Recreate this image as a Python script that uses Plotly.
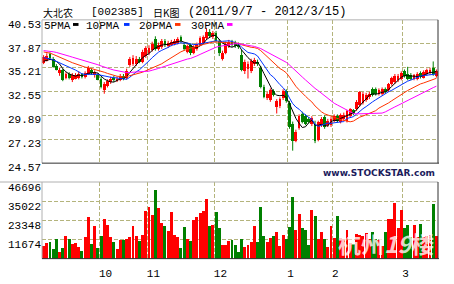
import plotly.graph_objects as go
import pandas as pd

# ---------------- data ----------------
# closes of the 29 sessions before 2011/9/7 (only used for the moving averages)
pre_close = [37.0, 37.3, 37.6, 37.2, 37.5, 37.8, 37.4, 37.3, 37.6, 37.3,
             37.5, 37.9, 38.1, 37.8, 37.6, 37.9, 37.4, 37.2, 37.5, 37.1,
             37.0, 36.9, 36.6, 36.5, 36.5, 36.1, 35.7, 35.6, 35.8]

open_ = [35.7, 36.0, 36.7, 36.2, 35.4, 34.6, 35.0, 34.1, 34.5, 33.8,
         34.0, 34.1, 34.5, 34.2, 34.5, 35.0, 34.4, 34.4, 34.0, 32.7,
         33.2, 33.6, 34.1, 33.8, 33.9, 34.3, 34.1, 35.5, 35.6, 35.6,
         36.2, 35.9, 36.5, 36.8, 37.2, 38.4, 37.3, 37.5, 38.2, 37.6,
         37.8, 37.9, 38.0, 38.6, 37.8, 37.0, 37.7, 36.9, 37.3, 37.8,
         38.0, 38.5, 39.2, 38.6, 39.1, 38.2, 36.2, 36.9, 37.6, 38.1,
         38.0, 37.8, 36.6, 34.8, 35.1, 34.8, 35.6, 35.9, 35.2, 33.1,
         31.8, 31.6, 32.6, 30.8, 30.95, 31.8, 32.6, 31.3, 29.0, 27.0,
         28.45, 30.04, 29.8, 29.5, 28.9, 29.0, 27.2, 28.8, 29.7, 28.8,
         28.8, 29.3, 29.86, 29.2, 29.5, 29.3, 29.86, 30.5, 30.57, 31.1,
         31.3, 31.6, 31.9, 32.87, 32.8, 32.3, 32.3, 32.9, 32.7, 33.4,
         33.6, 33.8, 34.0, 34.83, 34.5, 34.4, 34.0, 33.95, 34.6, 34.1,
         34.5, 34.6, 35.2, 34.3]

close = [36.4, 36.5, 36.3, 35.3, 35.0, 35.0, 33.9, 34.5, 34.1, 34.4,
         34.4, 34.5, 34.2, 34.6, 35.2, 34.6, 34.7, 33.9, 33.1, 33.4,
         33.7, 34.0, 33.8, 34.0, 34.3, 34.0, 34.9, 36.2, 36.3, 36.2,
         35.9, 37.0, 37.4, 37.4, 37.9, 37.3, 37.8, 38.2, 37.7, 38.0,
         38.1, 38.2, 38.4, 38.2, 37.3, 37.6, 36.8, 37.5, 37.9, 38.5,
         38.6, 39.2, 38.7, 39.1, 38.2, 36.8, 36.9, 37.9, 38.1, 37.7,
         37.6, 37.5, 35.0, 35.9, 35.6, 36.0, 36.06, 35.6, 33.1, 32.0,
         32.3, 32.7, 32.2, 31.5, 31.7, 32.6, 31.5, 28.6, 27.0, 28.1,
         29.86, 29.15, 29.0, 29.2, 29.6, 27.0, 29.15, 29.5, 28.6, 29.3,
         29.5, 29.8, 29.3, 29.9, 30.0, 30.4, 30.57, 30.1, 31.45, 32.5,
         32.3, 32.17, 32.3, 32.17, 32.3, 32.7, 32.87, 32.5, 33.4, 34.1,
         34.3, 34.3, 34.6, 34.3, 33.95, 34.0, 34.4, 34.5, 34.2, 34.7,
         35.0, 35.0, 34.5, 34.8]

high = [36.6, 36.8, 36.9, 36.4, 35.6, 35.2, 35.1, 34.7, 34.7, 34.6,
        34.6, 34.8, 34.6, 34.8, 35.4, 35.1, 34.9, 34.6, 34.2, 33.6,
        33.9, 34.2, 34.3, 34.2, 34.5, 34.5, 35.1, 36.4, 36.6, 36.5,
        36.4, 37.2, 37.6, 37.7, 38.1, 38.7, 38.0, 38.4, 38.4, 38.2,
        38.3, 38.4, 38.6, 38.8, 38.0, 37.8, 37.9, 37.7, 38.0, 38.7,
        38.8, 39.6, 39.5, 39.3, 39.3, 38.4, 37.1, 38.1, 38.3, 38.3,
        38.2, 38.0, 37.2, 36.1, 35.9, 36.2, 36.3, 36.1, 35.4, 33.3,
        32.5, 32.9, 32.8, 31.7, 31.9, 32.8, 32.8, 31.5, 29.2, 28.3,
        30.0, 30.3, 30.0, 29.7, 29.8, 29.3, 29.3, 29.7, 29.9, 29.5,
        29.7, 30.0, 30.0, 30.1, 30.2, 30.5, 30.7, 30.6, 31.6, 32.6,
        32.5, 32.4, 32.5, 33.0, 33.0, 32.9, 33.0, 33.0, 33.5, 34.2,
        34.5, 34.5, 34.8, 35.0, 35.3, 34.6, 34.5, 34.7, 34.8, 34.9,
        35.1, 35.2, 35.9, 35.0]

low = [35.6, 35.9, 36.1, 35.2, 34.9, 34.3, 33.7, 33.9, 33.9, 33.6,
       33.9, 33.9, 34.0, 34.0, 34.4, 34.4, 34.1, 33.8, 32.9, 32.3,
       33.0, 33.4, 33.6, 33.6, 33.7, 33.8, 33.9, 35.3, 35.4, 35.4,
       35.7, 35.7, 36.3, 36.6, 37.0, 37.1, 37.1, 37.3, 37.5, 37.4,
       37.6, 37.7, 37.8, 38.0, 37.1, 36.8, 36.6, 36.7, 37.1, 37.6,
       37.8, 38.3, 38.5, 38.4, 38.0, 36.5, 36.0, 36.7, 37.4, 37.5,
       37.4, 37.3, 34.8, 34.5, 34.0, 34.6, 35.4, 35.4, 32.9, 31.8,
       31.6, 31.4, 32.0, 30.1, 30.7, 31.6, 31.3, 28.4, 25.96, 26.9,
       28.3, 29.0, 28.8, 29.0, 28.7, 26.8, 27.0, 28.6, 28.4, 28.6,
       28.6, 29.1, 29.1, 29.0, 29.3, 29.1, 29.7, 29.9, 30.4, 30.9,
       31.1, 31.4, 31.7, 32.0, 32.1, 32.1, 32.1, 32.3, 32.5, 33.2,
       33.4, 33.6, 33.8, 34.1, 33.8, 33.8, 33.8, 33.8, 34.0, 34.0,
       34.3, 34.4, 34.3, 34.1]

volume = [7590, 9340, 9920, 5840, 11680, 4090, 6420, 14010, 11680, 8760,
          9340, 7010, 4670, 13430, 25100, 8760, 19850, 6420, 14010, 23940,
          20430, 13430, 9920, 5840, 11090, 11090, 12000, 13430, 19850, 14010,
          10510, 14600, 29190, 31530, 26860, 42030, 30940, 21600, 19850, 16930,
          28610, 14600, 13430, 6420, 19270, 12260, 10510, 23350, 25100, 28020,
          29190, 36200, 19850, 20430, 28610, 18680, 8170, 8170, 10510, 11090,
          8000, 4090, 12260, 7010, 8170, 9920, 19850, 9920, 31530, 14010,
          9920, 12840, 14010, 16350, 7590, 14600, 12260, 19270, 37360, 17510,
          27440, 18680, 17510, 8170, 29770, 26270, 11680, 16350, 11680, 7010,
          19850, 12500, 26270, 12840, 12260, 17510, 9340, 8760, 15180, 14600,
          14010, 15760, 12260, 16000, 12260, 11090, 7590, 16350, 23940, 24100,
          34030, 18860, 29360, 18680, 20430, 13430, 20430, 13430, 21010, 13430,
          14010, 14600, 33270, 14010]

# first session of each month (index in the session list) and labels
month_first_bar = [18, 33, 54, 77, 91, 113]
month_labels = ["10", "11", "12", "1", "2", "3"]

price_ticks = [24.57, 27.23, 29.89, 32.55, 35.21, 37.87, 40.53]
vol_ticks = [11674, 23348, 35022, 46696]

ma_periods = [5, 10, 20, 30]
ma_names = ["5PMA", "10PMA", "20PMA", "30PMA"]

title_stock = "大北农"
title_code = "[002385]"
title_kind = "日K图"
title_range = "(2011/9/7 - 2012/3/15)"

# ---------------- styles ----------------
W, H = 454, 284
RED = "#ff0000"
GREEN = "#008000"
MA_COLORS = ["#000000", "#0033ff", "#ff3300", "#ff00ff"]
GRID = "#b4b47c"
LIGHT = "#b0b0b0"
DARK = "#303030"
MONO = "Liberation Mono, DejaVu Sans Mono, monospace"
CJK = "Noto Sans CJK SC"

X0, X1 = 42, 438          # plot area in pixels
P_TOP, P_BOT = 19.7, 169.3  # price panel
V_TOP, V_BOT = 189, 269     # volume panel


def px(x):
    return x / W


def py(y):
    return 1 - y / H


n = len(close)
xs = list(range(n))
up = [c >= o for o, c in zip(open_, close)]
colors = [RED if u else GREEN for u in up]

full = pd.Series(pre_close + close)
mas = [full.rolling(p).mean().tolist()[-n:] for p in ma_periods]

fig = go.Figure()

# wicks
for is_up, col in [(True, RED), (False, GREEN)]:
    wx, wy = [], []
    for i in range(n):
        if up[i] == is_up:
            wx += [i, i, None]
            wy += [low[i], high[i], None]
    fig.add_trace(go.Scatter(x=wx, y=wy, mode="lines", line=dict(color=col, width=1),
                             xaxis="x", yaxis="y", hoverinfo="skip"))

# bodies
base = [min(o, c) for o, c in zip(open_, close)]
hgt = [max(abs(c - o), 0.04) for o, c in zip(open_, close)]
fig.add_trace(go.Bar(x=xs, y=hgt, base=base, width=0.88, marker=dict(color=colors, line=dict(width=0)),
                     xaxis="x", yaxis="y", hoverinfo="skip"))

# moving averages
for ma, col in zip(mas, MA_COLORS):
    fig.add_trace(go.Scatter(x=xs, y=ma, mode="lines", line=dict(color=col, width=1),
                             xaxis="x", yaxis="y", hoverinfo="skip"))

# volume
fig.add_trace(go.Bar(x=xs, y=volume, width=0.92, marker=dict(color=colors, line=dict(width=0)),
                     xaxis="x2", yaxis="y2", hoverinfo="skip"))

grid_kw = dict(showgrid=True, gridcolor=GRID, griddash="4px,2px", gridwidth=1,
               zeroline=False, showline=False, ticks="")
xdom = [px(X0), px(X1)]
gridvals = [m - 0.5 for m in month_first_bar]
xlabels = [lab if len(lab) == 2 else lab + "\u00a0" for lab in month_labels]

fig.update_layout(
    width=W, height=H, margin=dict(l=0, r=0, t=0, b=0),
    paper_bgcolor="white", plot_bgcolor="white", showlegend=False,
    barmode="overlay", bargap=0,
    xaxis=dict(domain=xdom, range=[-0.5, n - 0.5], tickvals=gridvals,
               showticklabels=False, anchor="y", **grid_kw),
    xaxis2=dict(domain=xdom, range=[-0.5, n - 0.5], tickvals=gridvals, ticktext=xlabels,
                matches="x", anchor="y2", tickfont=dict(family=MONO, size=11, color="black"),
                ticklabelshift=6, ticklabelstandoff=6, **grid_kw),
    yaxis=dict(domain=[py(P_BOT), py(P_TOP)], range=[price_ticks[0], price_ticks[-1]],
               tickvals=price_ticks, ticktext=["%.2f" % v for v in price_ticks],
               tickfont=dict(family=MONO, size=11, color="black"), ticklabelshift=4,
               anchor="x", **grid_kw),
    yaxis2=dict(domain=[py(V_BOT), py(V_TOP)], range=[0, vol_ticks[-1]],
                tickvals=vol_ticks, ticktext=[str(v) for v in vol_ticks],
                tickfont=dict(family=MONO, size=11, color="black"), ticklabelshift=5,
                anchor="x2", **grid_kw),
)

shapes = []


def hline(x0, x1, y, col):
    shapes.append(dict(type="line", xref="paper", yref="paper", x0=px(x0), x1=px(x1),
                       y0=py(y), y1=py(y), line=dict(color=col, width=1)))


def vline(x, y0, y1, col):
    shapes.append(dict(type="line", xref="paper", yref="paper", x0=px(x), x1=px(x),
                       y0=py(y0), y1=py(y1), line=dict(color=col, width=1)))


# price panel frame
hline(X0, X1, P_TOP, LIGHT)
vline(X0, P_TOP, P_BOT, LIGHT)
hline(X0, X1 + 1, P_BOT, DARK)
vline(X1, P_TOP, P_BOT, DARK)
# volume panel frame
hline(0, X1, V_TOP, LIGHT)
vline(X0, V_TOP, V_BOT, LIGHT)
hline(X0, X1 + 1, V_BOT, DARK)
vline(X1, V_TOP, V_BOT, DARK)

# legend swatches
sw_x = [73, 124, 175, 227]
for x0, col in zip(sw_x, MA_COLORS):
    shapes.append(dict(type="rect", xref="paper", yref="paper", x0=px(x0), x1=px(x0 + 5.5),
                       y0=py(26), y1=py(23), line=dict(width=0), fillcolor=col))

fig.update_layout(shapes=shapes)

ann = []


def text(x, y, s, font, size, color="black", xanchor="left", yanchor="middle", bold=False):
    ann.append(dict(x=px(x), y=py(y), xref="paper", yref="paper", text=("<b>%s</b>" % s) if bold else s,
                    showarrow=False, xanchor=xanchor, yanchor=yanchor,
                    font=dict(family=font, size=size, color=color)))


text(41, 12, title_stock, CJK, 10)
text(89, 12, title_code, MONO, 11)
text(151, 12, title_kind, CJK, 10)
text(186, 12, title_range, MONO, 12)

leg_x = [42, 84, 137, 189]
for x0, name in zip(leg_x, ma_names):
    text(x0, 26, name, MONO, 11)

text(437, 179.5, "www.STOCKSTAR.com", "DejaVu Sans", 9, color="#1c1c5c", xanchor="right", bold=True)
text(336, 272, "杭州<i>19</i>楼", CJK, 23, color="rgba(255,255,255,0.8)", yanchor="bottom", bold=True)

fig.update_layout(annotations=ann)

fig.write_html("out.html")
